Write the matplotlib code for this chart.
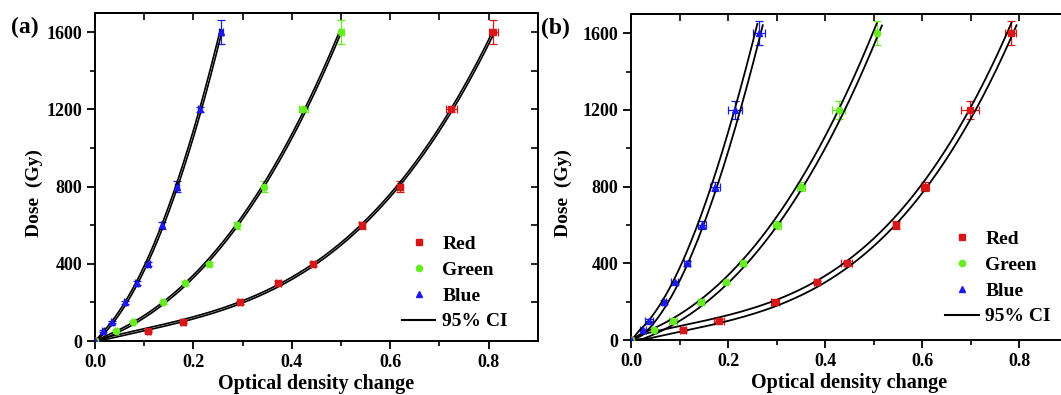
import numpy as np
import matplotlib
matplotlib.use("Agg")
import matplotlib.pyplot as plt

plt.rcParams['font.family'] = ['Liberation Serif', 'DejaVu Serif']
plt.rcParams['font.weight'] = 'bold'

dose = [0, 50, 100, 200, 300, 400, 600, 800, 1200, 1600]

# panel (a)
od_red_a = [0, 0.108, 0.179, 0.295, 0.372, 0.443, 0.543, 0.620, 0.724, 0.809]
od_green_a = [0, 0.043, 0.078, 0.138, 0.183, 0.232, 0.289, 0.343, 0.423, 0.500]
od_blue_a = [0, 0.016, 0.034, 0.061, 0.085, 0.108, 0.137, 0.166, 0.213, 0.256]
xerr_red_a = [0, 0.003, 0.004, 0.004, 0.005, 0.005, 0.006, 0.006, 0.011, 0.009]
xerr_green_a = [0, 0.002, 0.003, 0.003, 0.003, 0.004, 0.004, 0.004, 0.009, 0.005]
xerr_blue_a = [0, 0.002, 0.002, 0.003, 0.003, 0.003, 0.003, 0.004, 0.003, 0.004]
yerr_a = [0, 5, 6, 8, 10, 12, 18, 30, 12, 62]

# panel (b)
od_red_b = [0, 0.107, 0.181, 0.296, 0.383, 0.444, 0.545, 0.605, 0.698, 0.782]
od_green_b = [0, 0.047, 0.086, 0.144, 0.195, 0.230, 0.300, 0.350, 0.428, 0.506]
od_blue_b = [0, 0.024, 0.037, 0.068, 0.090, 0.115, 0.146, 0.173, 0.214, 0.263]
xerr_red_b = [0, 0.006, 0.010, 0.008, 0.006, 0.012, 0.006, 0.008, 0.018, 0.011]
xerr_green_b = [0, 0.004, 0.008, 0.006, 0.005, 0.004, 0.008, 0.008, 0.013, 0.004]
xerr_blue_b = [0, 0.006, 0.008, 0.004, 0.007, 0.006, 0.008, 0.010, 0.014, 0.012]
yerr_b = [0, 5, 8, 10, 10, 12, 20, 25, 48, 62]

colors = {'Red': '#d81818', 'Green': '#66ee22', 'Blue': '#1a1aee'}
markers = {'Red': 's', 'Green': 'o', 'Blue': '^'}


def poly_fit(x, y):
    # cubic through the origin
    x = np.asarray(x)
    A = np.column_stack([x, x ** 2, x ** 3])
    coef, *_ = np.linalg.lstsq(A, np.asarray(y, float), rcond=None)
    return coef


def band_lines(ax, xs, ds, half_px, ramp_px=12.0):
    # offset the fit curve sideways (in screen space) to get the two band edges
    pts = ax.transData.transform(np.column_stack([xs, ds]))
    d = np.gradient(pts, axis=0)
    n = np.column_stack([-d[:, 1], d[:, 0]])
    n /= np.hypot(n[:, 0], n[:, 1])[:, None]
    r = np.hypot(pts[:, 0] - pts[0, 0], pts[:, 1] - pts[0, 1])
    h = half_px * np.clip(r / ramp_px, 0, 1)
    inv = ax.transData.inverted()
    lo = inv.transform(pts - n * h[:, None])
    hi = inv.transform(pts + n * h[:, None])
    return lo, hi


def draw_panel(ax, series, yerr, half_px, lw, top_dose, tag, tag_x, ylab_x, leg_xy):
    ax.set_xlim(0, 0.9)
    ax.set_ylim(0, 1700)
    for name, (od, xerr) in series.items():
        c = colors[name]
        ax.errorbar(od, dose, xerr=xerr, yerr=yerr, fmt='none', ecolor=c,
                    elinewidth=0.9, capsize=3, capthick=0.9, zorder=2)
        ax.plot(od, dose, linestyle='none', marker=markers[name], color=c,
                markersize=4.5, label=name, zorder=4)
        coef = poly_fit(od, dose)
        xs = np.linspace(0, max(od) * 1.08, 500)
        ds = coef[0] * xs + coef[1] * xs ** 2 + coef[2] * xs ** 3
        keep = ds <= top_dose
        lo, hi = band_lines(ax, xs[keep], ds[keep], half_px)
        ax.plot(lo[:, 0], lo[:, 1], color='k', lw=lw, zorder=3)
        ax.plot(hi[:, 0], hi[:, 1], color='k', lw=lw, zorder=3)
    ax.plot([], [], color='k', lw=1.5, label='95% CI')
    ax.set_xlim(0, 0.9)
    ax.set_ylim(0, 1700)

    ax.set_xticks([0, 0.2, 0.4, 0.6, 0.8])
    ax.set_xticks(np.arange(0.1, 0.9, 0.2), minor=True)
    ax.set_yticks([0, 400, 800, 1200, 1600])
    ax.set_yticks([200, 600, 1000, 1400], minor=True)
    ax.tick_params(which='major', direction='out', length=6, width=1.3,
                   labelsize=13, pad=3)
    ax.tick_params(which='minor', direction='out', length=3.5, width=1.2)
    for s in ax.spines.values():
        s.set_linewidth(1.4)

    top = ax.secondary_xaxis('top')
    top.set_xticks(np.arange(0, 0.91, 0.1))
    top.tick_params(direction='in', length=5, width=1.2, labeltop=False)
    top.spines['top'].set_linewidth(1.4)
    right = ax.secondary_yaxis('right')
    right.set_yticks(np.arange(0, 1701, 200))
    right.tick_params(direction='in', length=5, width=1.2, labelright=False)
    right.spines['right'].set_linewidth(1.4)

    ax.set_xlabel('Optical density change', fontsize=14.5, fontweight='bold', labelpad=2.5)
    ax.set_ylabel('Dose  (Gy)', fontsize=14, fontweight='bold')
    ax.yaxis.set_label_coords(ylab_x, 0.45)
    ax.text(tag_x, 0.955, tag, transform=ax.transAxes, fontsize=17,
            fontweight='bold', ha='left', va='center')

    ax.legend(loc='lower left', bbox_to_anchor=leg_xy, frameon=False,
              fontsize=14, handlelength=1.7, handletextpad=0.35,
              labelspacing=0.42, borderpad=0.3)


fig = plt.figure(figsize=(10.61, 3.95), dpi=100)
ax_a = fig.add_axes([0.0895, 0.1367, 0.4175, 0.8304])
ax_b = fig.add_axes([0.5947, 0.1392, 0.4119, 0.8253])

draw_panel(ax_a, {'Red': (od_red_a, xerr_red_a),
                  'Green': (od_green_a, xerr_green_a),
                  'Blue': (od_blue_a, xerr_blue_a)}, yerr_a,
           half_px=1.0, lw=1.2, top_dose=1615, tag='(a)', tag_x=-0.19,
           ylab_x=-0.117, leg_xy=(0.659, -0.015))
draw_panel(ax_b, {'Red': (od_red_b, xerr_red_b),
                  'Green': (od_green_b, xerr_green_b),
                  'Blue': (od_blue_b, xerr_blue_b)}, yerr_b,
           half_px=2.8, lw=1.3, top_dose=1650, tag='(b)', tag_x=-0.205,
           ylab_x=-0.135, leg_xy=(0.684, -0.003))

fig.savefig('out.png', dpi=100)
